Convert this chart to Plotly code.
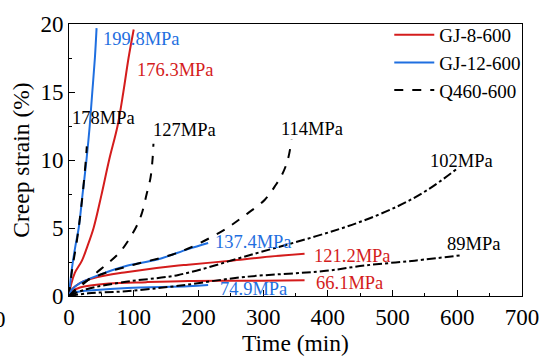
import plotly.graph_objects as go

# GJ-8-600 (red)
r176_x = [0, 3, 9, 20, 28, 38, 50, 62, 75, 84, 92, 100]
r176_y = [0, 0.8, 1.7, 2.6, 3.6, 5.0, 7.4, 10.0, 12.5, 15.0, 17.5, 19.6]
r121_x = [0, 5, 15, 37, 88, 169, 184, 250, 300, 364]
r121_y = [0, 0.5, 0.9, 1.3, 1.75, 2.25, 2.3, 2.6, 2.85, 3.1]
r66_x = [0, 5, 17, 62, 120, 184, 250, 300, 364]
r66_y = [0, 0.35, 0.63, 0.92, 1.02, 1.1, 1.12, 1.13, 1.15]

# GJ-12-600 (blue)
b199_x = [0, 2, 5, 10, 15, 21, 27, 32, 36, 40, 42.6]
b199_y = [0, 1.0, 2.2, 3.7, 5.0, 7.5, 10.0, 12.5, 15.0, 17.5, 19.7]
b137_x = [0, 5, 17, 47, 88, 138, 184, 215]
b137_y = [0, 0.5, 0.95, 1.55, 2.2, 2.7, 3.45, 3.9]
b74_x = [0, 5, 15, 37, 90, 184, 215]
b74_y = [0, 0.2, 0.32, 0.42, 0.58, 0.72, 0.8]

# Q460-600 (black)
q178_x = [0, 5, 12, 20, 26, 27.5]
q178_y = [0, 2.0, 4.0, 7.0, 10.0, 11.0]
q127_x = [0, 20, 42, 60, 80, 103, 112, 120, 126, 129, 130.5]
q127_y = [0, 0.8, 1.7, 2.4, 3.3, 5.0, 6.0, 7.5, 8.7, 10.0, 11.2]
q114_x = [0, 20, 50, 100, 169, 234, 271, 303, 320, 329, 338, 344]
q114_y = [0, 0.9, 1.6, 2.3, 3.2, 4.7, 5.9, 7.1, 8.2, 8.9, 10.0, 11.5]
q102_x = [0, 27, 88, 169, 286, 382, 447, 508, 554, 598]
q102_y = [0, 0.5, 1.05, 1.55, 3.1, 4.4, 5.4, 6.6, 7.8, 9.3]
q89_x = [0, 30, 88, 169, 271, 397, 458, 534, 607]
q89_y = [0, 0.2, 0.35, 0.75, 1.4, 1.85, 2.25, 2.6, 3.0]

RED = "#d41c1c"
BLUE = "#1f6fe0"
BLACK = "#000000"

labels = [
    ("199.8MPa", 48.7, 18.9, BLUE),
    ("176.3MPa", 102, 16.6, RED),
    ("178MPa", 1.5, 13.1, BLACK),
    ("127MPa", 126, 12.2, BLACK),
    ("114MPa", 324, 12.25, BLACK),
    ("102MPa", 554, 9.9, BLACK),
    ("137.4MPa", 222, 3.95, BLUE),
    ("121.2MPa", 376, 2.96, RED),
    ("89MPa", 581, 3.8, BLACK),
    ("74.9MPa", 231, 0.5, BLUE),
    ("66.1MPa", 379, 0.92, RED),
]

fig = go.Figure()

def add(x, y, color, dash, name=None, show=False):
    fig.add_trace(go.Scatter(x=x, y=y, mode="lines", name=name, line_shape="spline",
                             showlegend=show, line=dict(color=color, width=2, dash=dash)))

add(r176_x, r176_y, RED, "solid", "GJ-8-600", True)
add(b199_x, b199_y, BLUE, "solid", "GJ-12-600", True)
add(q178_x, q178_y, BLACK, "dash", "Q460-600", True)
add(r121_x, r121_y, RED, "solid")
add(r66_x, r66_y, RED, "solid")
add(b137_x, b137_y, BLUE, "solid")
add(b74_x, b74_y, BLUE, "solid")
add(q127_x, q127_y, BLACK, "dash")
add(q114_x, q114_y, BLACK, "dash")
add(q102_x, q102_y, BLACK, "dashdot")
add(q89_x, q89_y, BLACK, "dashdot")

FONT = "'Liberation Serif', 'Times New Roman', Times, serif"
for txt, x, y, c in labels:
    fig.add_annotation(x=x, y=y, text=txt, showarrow=False, xanchor="left",
                       yanchor="middle", font=dict(family=FONT, size=18.5, color=c))

# stray clipped tick label at far left (as in the reference)
fig.add_annotation(xref="paper", yref="paper", x=-0.152, y=-0.085, text="0",
                   xanchor="center", yanchor="middle",
                   showarrow=False, font=dict(family=FONT, size=23, color="black"))

fig.update_layout(
    width=551, height=360,
    margin=dict(l=69, r=22, t=20, b=56),
    paper_bgcolor="white", plot_bgcolor="white",
    font=dict(family=FONT, size=23, color="black"),
    legend=dict(x=0.707, y=1.03, xanchor="left", yanchor="top",
                font=dict(family=FONT, size=19), bgcolor="rgba(0,0,0,0)",
                tracegroupgap=0, itemwidth=40),
)
fig.update_xaxes(range=[0, 700], dtick=100, tick0=0, showgrid=False, zeroline=False,
                 showline=True, linecolor="black", linewidth=1, mirror=True,
                 ticks="inside", ticklen=6, tickcolor="black",
                 minor=dict(dtick=50, ticks="inside", ticklen=3, tickcolor="black"),
                 title=dict(text="Time (min)", font=dict(size=23.5), standoff=2))
fig.update_yaxes(range=[0, 20], dtick=5, tick0=0, showgrid=False, zeroline=False,
                 showline=True, linecolor="black", linewidth=1, mirror=True,
                 ticks="inside", ticklen=6, tickcolor="black",
                 minor=dict(dtick=2.5, ticks="inside", ticklen=3, tickcolor="black"),
                 title=dict(text="Creep strain (%)", font=dict(size=23.5), standoff=4))

fig.write_html("out.html")
